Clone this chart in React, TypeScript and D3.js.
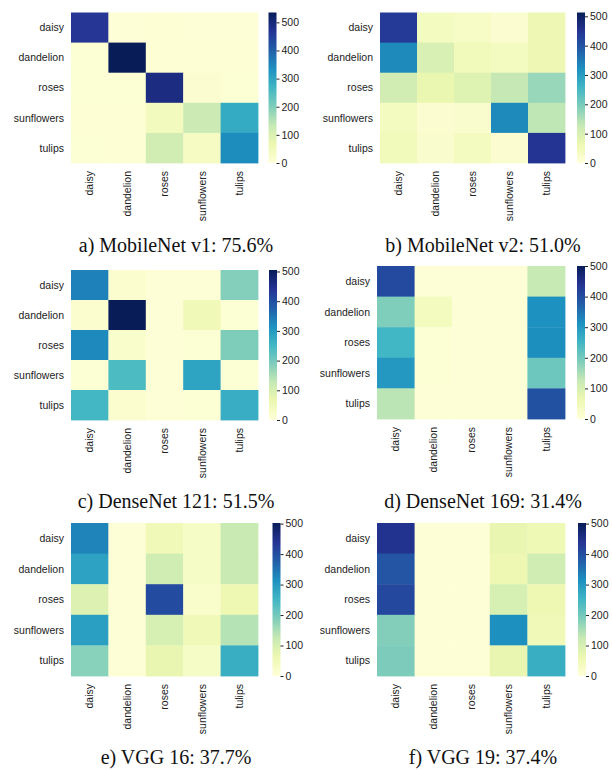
import React, { useEffect, useRef } from "react";
import * as d3 from "d3";

// class names (rows = true label, columns = predicted)
const classes = ["daisy", "dandelion", "roses", "sunflowers", "tulips"];
const colorTicks = [0, 100, 200, 300, 400, 500];

const captions = [
  "a) MobileNet v1: 75.6%",
  "b) MobileNet v2: 51.0%",
  "c) DenseNet 121: 51.5%",
  "d) DenseNet 169: 31.4%",
  "e) VGG 16: 37.7%",
  "f) VGG 19: 37.4%",
];

// upper end of each colour bar
const vmaxes = [535, 513, 505, 500, 502, 502];

const mobilenetV1 = [
  [465, 6, 8, 6, 6],
  [10, 535, 8, 8, 8],
  [10, 10, 490, 15, 10],
  [8, 8, 45, 125, 290],
  [10, 8, 115, 35, 340],
];
const mobilenetV2 = [
  [440, 40, 30, 15, 60],
  [330, 100, 50, 40, 60],
  [110, 70, 90, 130, 170],
  [40, 15, 20, 330, 135],
  [50, 20, 40, 15, 450],
];
const densenet121 = [
  [335, 15, 5, 5, 185],
  [15, 505, 5, 50, 10],
  [325, 20, 5, 10, 190],
  [10, 240, 5, 285, 10],
  [250, 15, 5, 10, 268],
];
const densenet169 = [
  [405, 5, 5, 5, 125],
  [188, 40, 5, 5, 312],
  [250, 10, 5, 5, 315],
  [300, 10, 5, 5, 205],
  [135, 5, 5, 5, 395],
];
const vgg16 = [
  [330, 5, 50, 30, 120],
  [285, 5, 110, 30, 120],
  [90, 5, 405, 20, 60],
  [290, 5, 100, 50, 140],
  [180, 5, 70, 30, 265],
];
const vgg19 = [
  [445, 5, 5, 70, 55],
  [390, 5, 5, 60, 110],
  [410, 5, 5, 100, 60],
  [185, 5, 5, 315, 50],
  [190, 5, 5, 70, 265],
];

const matrices = [mobilenetV1, mobilenetV2, densenet121, densenet169, vgg16, vgg19];

// matplotlib's YlGnBu, linear between the brewer stops
const ylgnbuStops = [
  "#ffffd9", "#edf8b1", "#c7e9b4", "#7fcdbb", "#41b6c4",
  "#1d91c0", "#225ea8", "#253494", "#081d58",
];
const ylgnbu = d3.piecewise(d3.interpolateRgb, ylgnbuStops);

// where each panel sits on the page
const layout = [
  { x0: 71, x1: 258, y0: 12.5, y1: 163, cb: 268.5, cap: 176, capY: 252 },
  { x0: 380, x1: 565, y0: 12.5, y1: 163, cb: 577, cap: 483, capY: 252 },
  { x0: 71, x1: 258, y0: 270, y1: 420, cb: 269, cap: 176, capY: 508 },
  { x0: 377, x1: 565, y0: 266, y1: 419, cb: 577, cap: 483, capY: 508 },
  { x0: 71, x1: 258, y0: 523, y1: 676, cb: 272.5, cap: 176, capY: 764 },
  { x0: 377, x1: 565, y0: 523, y1: 676, cb: 578, cap: 483, capY: 764 },
];

export default function App() {
  const ref = useRef<SVGSVGElement>(null);

  useEffect(() => {
    const svg = d3.select(ref.current);
    svg.selectAll("*").remove();

    const defs = svg.append("defs");
    const grad = defs
      .append("linearGradient")
      .attr("id", "ylgnbu")
      .attr("x1", 0)
      .attr("y1", 1)
      .attr("x2", 0)
      .attr("y2", 0);
    ylgnbuStops.forEach((c, k) => {
      grad
        .append("stop")
        .attr("offset", k / (ylgnbuStops.length - 1))
        .attr("stop-color", c);
    });

    matrices.forEach((m, i) => {
      const L = layout[i];
      const vmax = vmaxes[i];
      const g = svg.append("g");

      const x = d3.scaleBand().domain(classes).range([L.x0, L.x1]);
      const y = d3.scaleBand().domain(classes).range([L.y0, L.y1]);
      const color = d3.scaleSequential(ylgnbu).domain([0, vmax]);

      const cells = m.flatMap((row, r) =>
        row.map((v, c) => ({ row: classes[r], col: classes[c], v }))
      );

      g.append("g")
        .selectAll("rect")
        .data(cells)
        .join("rect")
        .attr("x", (d) => x(d.col)!)
        .attr("y", (d) => y(d.row)!)
        .attr("width", x.bandwidth() + 0.4)
        .attr("height", y.bandwidth() + 0.4)
        .attr("fill", (d) => color(d.v));

      // row labels
      g.append("g")
        .attr("font-family", "'Liberation Sans', Arial, sans-serif")
        .attr("font-size", 10.5)
        .attr("fill", "#222")
        .attr("text-anchor", "end")
        .selectAll("text")
        .data(classes)
        .join("text")
        .attr("x", L.x0 - 7)
        .attr("y", (d) => y(d)! + y.bandwidth() / 2)
        .attr("dy", "0.35em")
        .text((d) => d);

      // column labels, rotated
      g.append("g")
        .attr("font-family", "'Liberation Sans', Arial, sans-serif")
        .attr("font-size", 10.5)
        .attr("fill", "#222")
        .attr("text-anchor", "end")
        .selectAll("text")
        .data(classes)
        .join("text")
        .attr(
          "transform",
          (d) => `translate(${x(d)! + x.bandwidth() / 2},${L.y1 + 8}) rotate(-90)`
        )
        .attr("dy", "0.35em")
        .text((d) => d);

      // colour bar
      const cbScale = d3.scaleLinear().domain([0, vmax]).range([L.y1, L.y0]);
      g.append("rect")
        .attr("x", L.cb)
        .attr("y", L.y0)
        .attr("width", 8)
        .attr("height", L.y1 - L.y0)
        .attr("fill", "url(#ylgnbu)");

      const axis = g
        .append("g")
        .attr("transform", `translate(${L.cb + 8},0)`)
        .call(d3.axisRight(cbScale).tickValues(colorTicks).tickSize(3).tickPadding(2));
      axis.select(".domain").remove();
      axis
        .selectAll("text")
        .attr("font-family", "'Liberation Sans', Arial, sans-serif")
        .attr("font-size", 10.5)
        .attr("fill", "#222");
      axis.selectAll("line").attr("stroke", "#222");

      // caption
      g.append("text")
        .attr("x", L.cap)
        .attr("y", L.capY)
        .attr("text-anchor", "middle")
        .attr("font-family", "'Liberation Serif', 'Times New Roman', serif")
        .attr("font-size", 20)
        .attr("fill", "#111")
        .text(captions[i]);
    });
  }, []);

  return (
    <svg
      ref={ref}
      width={612}
      height={770}
      style={{ position: "absolute", left: 0, top: 0, background: "#fff" }}
    />
  );
}
